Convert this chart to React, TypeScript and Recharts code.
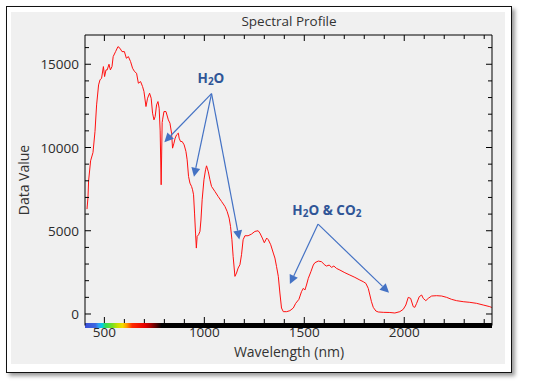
import { Line, LineChart, ReferenceDot, ReferenceLine, XAxis, YAxis } from "recharts";

// spectrum (nm, data value)
const WAVELENGTH = [
  413, 418, 421, 431, 443, 453, 461, 471, 478, 486, 495, 501, 508, 514, 523, 530, 538, 544, 556, 568,
  578, 588, 600, 610, 620, 631, 641, 651, 661, 670, 681, 691, 698, 708, 716, 726, 734, 741, 748, 754,
  761, 768, 774, 779, 784, 789, 791, 798, 808, 820, 828, 836, 841, 848, 854, 861, 870, 874, 881, 889,
  899, 908, 914, 921, 928, 936, 941, 946, 951, 956, 960, 964, 971, 978, 983, 989, 998, 1006, 1011, 1020,
  1028, 1036, 1053, 1069, 1086, 1103, 1114, 1124, 1131, 1138, 1144, 1153, 1161, 1169, 1178, 1186, 1194, 1203, 1219, 1236,
  1253, 1269, 1278, 1290, 1300, 1312, 1320, 1332, 1345, 1353, 1361, 1370, 1378, 1386, 1395, 1412, 1428, 1445, 1457, 1473,
  1486, 1495, 1503, 1511, 1520, 1533, 1545, 1553, 1570, 1586, 1603, 1611, 1625, 1636, 1648, 1661, 1678, 1703, 1728, 1753,
  1778, 1795, 1808, 1820, 1828, 1836, 1845, 1858, 1870, 1895, 1928, 1953, 1978, 1995, 2008, 2020, 2032, 2045, 2053, 2062,
  2075, 2087, 2095, 2108, 2120, 2137, 2162, 2187, 2212, 2237, 2262, 2295, 2328, 2362, 2395, 2428, 2438,
];
const DATA_VALUE = [
  6300, 7000, 8000, 9200, 9700, 10960, 12560, 13760, 14060, 14160, 14860, 14260, 14660, 14660, 15000, 14660, 14860, 15460, 15760, 16060,
  15960, 15760, 15760, 15360, 15460, 15160, 14760, 14560, 14460, 13860, 13960, 13660, 13360, 12460, 12960, 13260, 12960, 12060, 11660, 11860,
  12560, 12760, 12360, 11000, 7760, 11500, 11660, 12160, 12160, 11660, 11460, 10860, 9960, 10260, 10560, 10760, 10860, 10560, 10360, 10360,
  10160, 9760, 9260, 8260, 7860, 7660, 7460, 7160, 6060, 4860, 3960, 4660, 4760, 4960, 5640, 6860, 8060, 8660, 8900, 8540,
  8060, 7660, 7360, 7060, 6760, 6460, 6160, 5760, 5260, 4460, 3460, 2260, 2460, 2760, 2960, 3560, 4460, 4700, 4700, 4800,
  4960, 5000, 4860, 4560, 4280, 4560, 4460, 4160, 3660, 3360, 2860, 2260, 1260, 360, 140, 140, 200, 360, 640, 880,
  1340, 1540, 1440, 1740, 2140, 2540, 2940, 3080, 3180, 3140, 2940, 2880, 2940, 2800, 2880, 2740, 2640, 2480, 2340, 2200,
  2040, 1940, 1840, 1540, 1140, 740, 400, 180, 120, 100, 90, 60, 140, 280, 540, 1000, 940, 440, 400, 640,
  1040, 1140, 940, 800, 940, 1080, 1100, 1080, 1000, 880, 800, 740, 700, 640, 540, 440, 390,
];

const X_TICKS = [500, 600, 700, 800, 900, 1000, 1100, 1200, 1300, 1400, 1500, 1600, 1700, 1800, 1900, 2000, 2100, 2200, 2300, 2400];
const X_LABELS = [500, 1000, 1500, 2000];
const Y_TICKS = [0, 1000, 2000, 3000, 4000, 5000, 6000, 7000, 8000, 9000, 10000, 11000, 12000, 13000, 14000, 15000, 16000];
const Y_LABELS = [0, 5000, 10000, 15000];
const X_DOMAIN = [403, 2439];
const Y_DOMAIN = [-691, 16757];

// annotations: label position, arrow start, arrow tips
const H2O_LABEL = [1033, 14160];
const H2O_FROM = [1036, 13240];
const H2O_TIPS = [[800, 10320], [948, 8240], [1175, 4480]];
const MIX_LABEL = [1613, 6250];
const MIX_FROM = [1569, 5400];
const MIX_TIPS = [[1428, 1800], [1924, 1280]];

// visible-light strip on the wavelength axis
const BAND_STOPS = [
  [403, "#3a4fd6"], [455, "#3d66e0"], [470, "#2f9cf2"], [488, "#00cfe6"], [505, "#2fdc5a"],
  [540, "#78e020"], [565, "#c8e000"], [590, "#f2dc00"], [612, "#ff9a00"], [638, "#ff2a00"],
  [700, "#e80000"], [730, "#a80000"], [760, "#500000"], [785, "#000000"], [2439, "#000000"],
];

const W = 537;
const H = 385;
const AX_B = 30;
const AX_L = 60;
const M = { top: 34, right: 44, bottom: 59.5 - AX_B, left: 85 - AX_L };
const FONT = "'Open Sans', 'Noto Sans', sans-serif";
const TXT = "#2b2b2b";
const BLUE = "#4472c4";
const NAVY = "#2f5597";

const data = WAVELENGTH.map((nm, i) => ({ nm, value: DATA_VALUE[i] }));

function BottomTick({ x, y, payload }: any) {
  const major = X_LABELS.includes(payload.value);
  const top = y - 2.5;
  return (
    <g>
      <line x1={x} x2={x} y1={top} y2={top - (major ? 6 : 4)} stroke="#000" />
      {major && (
        <text x={x} y={y + 6.5} textAnchor="middle" dominantBaseline="central" fontSize={13.5} fill={TXT} fontFamily={FONT}>
          {payload.value}
        </text>
      )}
    </g>
  );
}

function TopTick({ x, y, payload }: any) {
  const major = X_LABELS.includes(payload.value);
  return <line x1={x} x2={x} y1={y} y2={y + (major ? 6 : 4)} stroke="#000" />;
}

function LeftTick({ x, y, payload }: any) {
  const major = Y_LABELS.includes(payload.value);
  return (
    <g>
      <line x1={x} x2={x + (major ? 6 : 4)} y1={y} y2={y} stroke="#000" />
      {major && (
        <text x={x - 6} y={y} textAnchor="end" dominantBaseline="central" fontSize={13.5} fill={TXT} fontFamily={FONT}>
          {payload.value}
        </text>
      )}
    </g>
  );
}

function RightTick({ x, y, payload }: any) {
  const major = Y_LABELS.includes(payload.value);
  return <line x1={x} x2={x - (major ? 6 : 4)} y1={y} y2={y} stroke="#000" />;
}

function Arrow({ x1, y1, x2, y2 }: any) {
  const a = Math.atan2(y2 - y1, x2 - x1);
  const len = 9;
  const half = 4.5;
  const bx = x2 - len * Math.cos(a);
  const by = y2 - len * Math.sin(a);
  const px = -Math.sin(a) * half;
  const py = Math.cos(a) * half;
  return (
    <g>
      <line x1={x1} y1={y1} x2={bx} y2={by} stroke={BLUE} strokeWidth={1.2} />
      <polygon points={`${x2},${y2} ${bx + px},${by + py} ${bx - px},${by - py}`} fill={BLUE} />
    </g>
  );
}

function H2OText({ cx, cy }: any) {
  return (
    <text x={cx} y={cy} textAnchor="middle" dominantBaseline="central" fontSize={13.5} fontWeight="bold" fill={NAVY} fontFamily={FONT}>
      H<tspan dy={3} fontSize={10}>2</tspan><tspan dy={-3}>O</tspan>
    </text>
  );
}

function MixText({ cx, cy }: any) {
  return (
    <text x={cx} y={cy} textAnchor="middle" dominantBaseline="central" fontSize={13.5} fontWeight="bold" fill={NAVY} fontFamily={FONT}>
      H<tspan dy={3} fontSize={10}>2</tspan><tspan dy={-3}>O &amp; CO</tspan><tspan dy={3} fontSize={10}>2</tspan>
    </text>
  );
}

export default function App() {
  const span = X_DOMAIN[1] - X_DOMAIN[0];
  return (
    <div style={{ position: "absolute", left: 0, top: 0, width: W, height: H, background: "#fff", fontFamily: FONT }}>
      <div
        style={{
          position: "absolute", left: 6, top: 6, width: 506, height: 367, boxSizing: "border-box",
          border: "1.5px solid #111", background: "#fff", boxShadow: "3px 3px 4px rgba(0,0,0,0.4)",
        }}
      />
      <div style={{ position: "absolute", left: 11, top: 12, width: 494, height: 352, background: "#f0f0f0" }} />
      <div style={{ position: "absolute", left: 0, width: 578, top: 12, textAlign: "center", fontSize: 13.5, color: "#333" }}>
        Spectral Profile
      </div>
      <div style={{ position: "absolute", left: 0, width: 578, top: 342, textAlign: "center", fontSize: 14, color: "#333" }}>
        Wavelength (nm)
      </div>
      <div
        style={{
          position: "absolute", left: 23, top: 180, fontSize: 14, color: "#333", whiteSpace: "nowrap",
          transform: "translate(-50%, -50%) rotate(-90deg)",
        }}
      >
        Data Value
      </div>
      <div style={{ position: "absolute", left: 0, top: 0 }}>
        <LineChart width={W} height={H} data={data} margin={M}>
          <defs>
            <linearGradient id="visBand" gradientUnits="userSpaceOnUse" x1={85} x2={W - M.right} y1={0} y2={0}>
              {BAND_STOPS.map(([nm, c]) => (
                <stop key={nm as number} offset={((nm as number) - X_DOMAIN[0]) / span} stopColor={c as string} />
              ))}
            </linearGradient>
          </defs>
          <XAxis
            dataKey="nm"
            type="number"
            domain={X_DOMAIN}
            ticks={X_TICKS}
            allowDataOverflow
            height={AX_B}
            tickSize={0}
            tickMargin={0}
            tickLine={false}
            axisLine={{ stroke: "url(#visBand)", strokeWidth: 5 }}
            tick={<BottomTick />}
            interval={0}
          />
          <XAxis
            xAxisId="top"
            dataKey="nm"
            orientation="top"
            type="number"
            domain={X_DOMAIN}
            ticks={X_TICKS}
            allowDataOverflow
            height={1}
            tickSize={0}
            tickMargin={0}
            tickLine={false}
            axisLine={{ stroke: "#000" }}
            tick={<TopTick />}
            interval={0}
          />
          <YAxis
            type="number"
            domain={Y_DOMAIN}
            ticks={Y_TICKS}
            allowDataOverflow
            width={AX_L}
            tickSize={0}
            tickMargin={0}
            tickLine={false}
            axisLine={{ stroke: "#000" }}
            tick={<LeftTick />}
            interval={0}
          />
          <YAxis
            yAxisId="right"
            orientation="right"
            type="number"
            domain={Y_DOMAIN}
            ticks={Y_TICKS}
            allowDataOverflow
            width={1}
            tickSize={0}
            tickMargin={0}
            tickLine={false}
            axisLine={{ stroke: "#000" }}
            tick={<RightTick />}
            interval={0}
          />
          <Line
            type="linear"
            dataKey="value"
            stroke="#ff1010"
            strokeWidth={1}
            dot={false}
            isAnimationActive={false}
          />
          {H2O_TIPS.map(([x, y], i) => (
            <ReferenceLine
              key={`h2o-${i}`}
              segment={[{ x: H2O_FROM[0], y: H2O_FROM[1] }, { x, y }]}
              shape={(p: any) => <Arrow {...p} />}
            />
          ))}
          {MIX_TIPS.map(([x, y], i) => (
            <ReferenceLine
              key={`mix-${i}`}
              segment={[{ x: MIX_FROM[0], y: MIX_FROM[1] }, { x, y }]}
              shape={(p: any) => <Arrow {...p} />}
            />
          ))}
          <ReferenceDot x={H2O_LABEL[0]} y={H2O_LABEL[1]} r={0} shape={(p: any) => <H2OText {...p} />} />
          <ReferenceDot x={MIX_LABEL[0]} y={MIX_LABEL[1]} r={0} shape={(p: any) => <MixText {...p} />} />
        </LineChart>
      </div>
    </div>
  );
}
